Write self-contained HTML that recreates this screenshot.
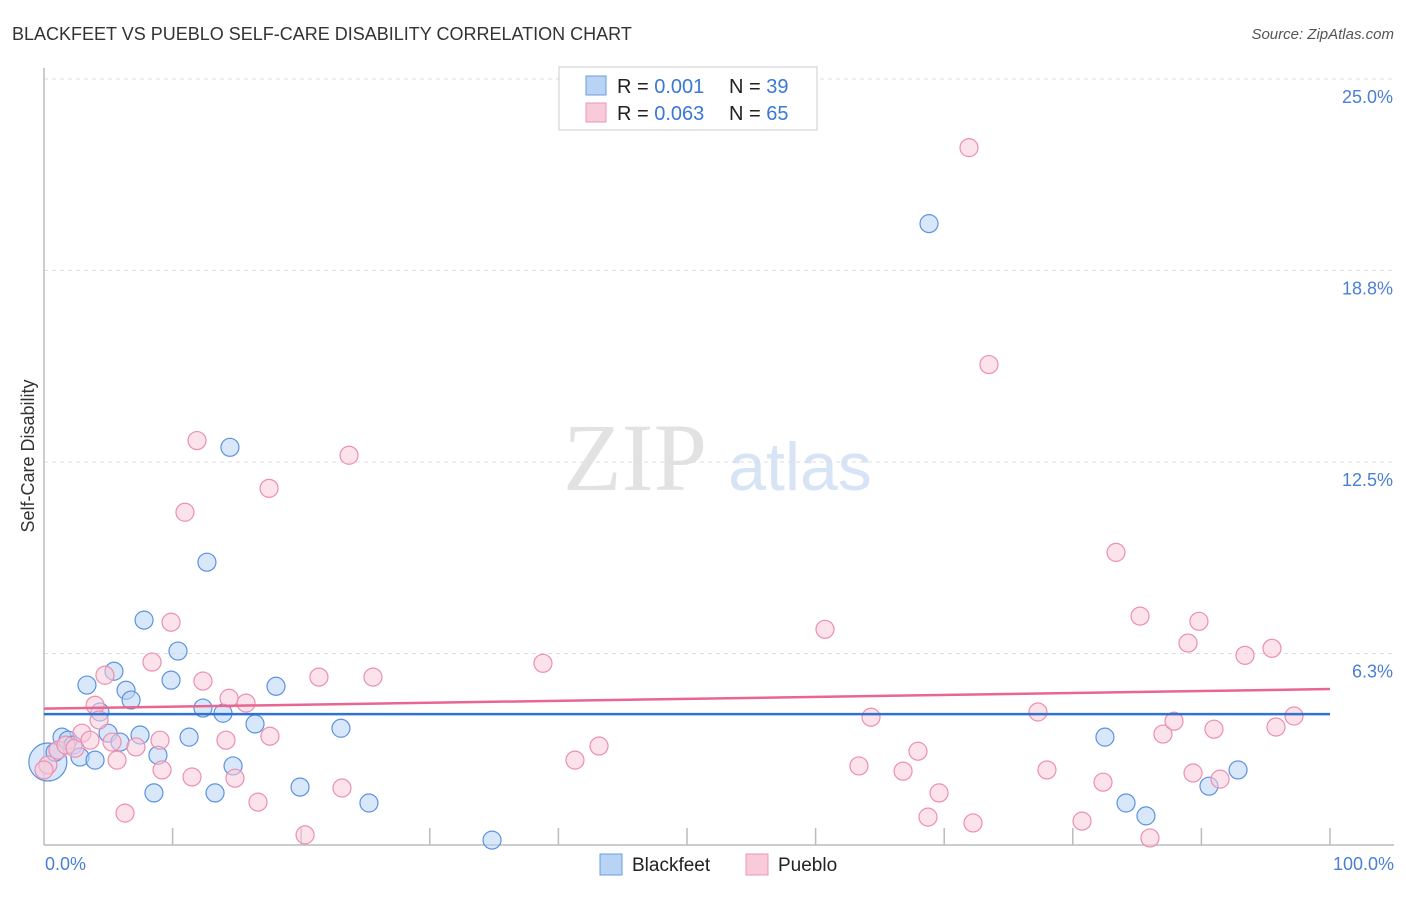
<!DOCTYPE html>
<html><head><meta charset="utf-8"><style>
body{margin:0;background:#fff;font-family:"Liberation Sans",sans-serif}
svg text{font-family:"Liberation Sans",sans-serif}
</style></head><body>
<svg width="1406" height="892" viewBox="0 0 1406 892" xmlns="http://www.w3.org/2000/svg" id="chart">
<text x="12" y="40" font-size="18" fill="#333">BLACKFEET VS PUEBLO SELF-CARE DISABILITY CORRELATION CHART</text>
<text x="1394" y="39" font-size="15" fill="#555" text-anchor="end" font-style="italic">Source: ZipAtlas.com</text>
<g>
<text x="635" y="490" font-size="96" fill="#e2e2e2" text-anchor="middle" font-family="Liberation Serif,serif" style="font-family:'Liberation Serif',serif">ZIP</text>
<text x="800" y="490" font-size="68" fill="#d6e4f5" text-anchor="middle">atlas</text>
</g>
<g id="grid"></g>
<g id="axes"></g>
<g id="marks"></g>
<g id="trend"></g>
<text transform="translate(34,456) rotate(-90)" font-size="18" fill="#333" text-anchor="middle">Self-Care Disability</text>
<text x="45" y="870" font-size="18" fill="#4a7fd4">0.0%</text>
<text x="1394" y="870" font-size="18" fill="#4a7fd4" text-anchor="end">100.0%</text>
<g>
<rect x="559" y="67" width="258" height="63" fill="#fff" stroke="#ccc"/>
<rect x="586" y="76" width="20" height="19" fill="#b9d3f5" stroke="#6a9de0"/>
<rect x="586" y="103" width="20" height="19" fill="#f9cad9" stroke="#ec96b3"/>
<text x="617" y="93" font-size="20" fill="#222">R = <tspan fill="#3a78d6">0.001</tspan></text>
<text x="729" y="93" font-size="20" fill="#222">N = <tspan fill="#3a78d6">39</tspan></text>
<text x="617" y="120" font-size="20" fill="#222">R = <tspan fill="#3a78d6">0.063</tspan></text>
<text x="729" y="120" font-size="20" fill="#222">N = <tspan fill="#3a78d6">65</tspan></text>
</g>
<g>
<rect x="600" y="854" width="22" height="21" fill="#b9d3f5" stroke="#6a9de0"/>
<text x="632" y="871" font-size="19" fill="#222">Blackfeet</text>
<rect x="746" y="854" width="22" height="21" fill="#f9cad9" stroke="#ec96b3"/>
<text x="778" y="871" font-size="19" fill="#222">Pueblo</text>
</g>
</svg>
<script>
const yTicks=[6.25,12.5,18.75,25];
const yTickLabels=["6.3%","12.5%","18.8%","25.0%"];
const xTicks=[10,20,30,40,50,60,70,80,90,100];
const blackfeetX=[0.3,0.86,1.4,1.87,2.26,2.8,3.34,3.97,4.35,4.98,5.44,5.91,6.38,6.77,7.47,7.78,8.55,8.86,9.88,10.42,11.28,12.36,12.67,13.3,13.92,14.46,14.7,16.41,18.04,19.91,23.09,25.27,34.84,68.82,82.5,84.14,85.69,90.59,92.85];
const blackfeetY=[2.71,3.03,3.52,3.42,3.26,2.87,5.22,2.77,4.34,3.65,5.67,3.36,5.05,4.73,3.59,7.34,1.70,2.93,5.38,6.33,3.52,4.47,9.23,1.70,4.30,12.98,2.58,3.95,5.18,1.89,3.81,1.37,0.16,20.28,3.52,1.37,0.95,1.92,2.45];
const puebloX=[0.3,1.09,1.71,2.41,2.95,3.58,3.97,4.28,4.74,5.29,5.68,6.3,7.15,8.4,9.02,9.18,9.88,10.96,11.51,11.9,12.36,14.15,14.39,14.85,15.71,16.64,17.5,17.57,20.3,21.38,23.17,23.72,25.58,38.8,41.29,43.16,60.73,63.37,64.31,66.8,67.96,68.74,69.6,71.93,72.24,73.48,77.29,77.99,80.72,82.35,83.36,85.23,86.0,87.01,87.87,88.96,89.35,89.81,90.98,91.45,93.39,95.49,95.8,97.2,0];
const puebloY=[2.61,3.10,3.26,3.16,3.65,3.42,4.56,4.08,5.54,3.36,2.77,1.04,3.20,5.97,3.42,2.45,7.27,10.86,2.22,13.2,5.35,3.42,4.79,2.18,4.63,1.40,11.64,3.55,0.33,5.48,1.86,12.72,5.48,5.93,2.77,3.23,7.04,2.58,4.17,2.41,3.06,0.91,1.70,22.76,0.72,15.68,4.34,2.45,0.78,2.05,9.55,7.47,0.23,3.62,4.04,6.59,2.35,7.30,3.78,2.15,6.19,6.42,3.85,4.21,2.45];
const blackfeetTrend=[4.27,4.27];
const puebloTrend=[4.45,5.09];
const NS="http://www.w3.org/2000/svg";
const X=v=>44+v/100*1286;
const Y=v=>845-v/25*766;
function mk(tag,attrs,parent){const e=document.createElementNS(NS,tag);for(const k in attrs)e.setAttribute(k,attrs[k]);parent.appendChild(e);return e;}
const grid=document.getElementById('grid'),axes=document.getElementById('axes'),marks=document.getElementById('marks'),trend=document.getElementById('trend');
yTicks.forEach((t,i)=>{
 const l=mk('line',{x1:44,x2:1394,y1:Y(t),y2:Y(t),stroke:'#ddd','stroke-dasharray':'4,4'},grid);
 
 
 const tx=mk('text',{x:1393,y:Y(t)+24,'font-size':18,fill:'#4a7fd4','text-anchor':'end'},grid);
 tx.textContent=yTickLabels[i];
 
 
});
const ya=mk('line',{x1:44,x2:44,y1:68,y2:845,stroke:'#bbb','stroke-width':1.5},axes);


const xa=mk('line',{x1:44,x2:1394,y1:845,y2:845,stroke:'#bbb','stroke-width':1.5},axes);


xTicks.forEach(t=>{
 const l=mk('line',{x1:X(t),x2:X(t),y1:828,y2:845,stroke:'#bbb','stroke-width':1.5},axes);
 
 
});
function dots(xs,ys,fill,stroke,name){
 xs.forEach((x,i)=>{
  const c=mk('circle',{cx:X(x),cy:Y(ys[i]),r:(i===0&&name==='blackfeet-point')?19:9,fill:fill,'fill-opacity':0.55,stroke:stroke,'stroke-width':1.2},marks);
  
  
 });
}
dots(blackfeetX,blackfeetY,'#b9d3f5','#5b93e0','blackfeet-point');
dots(puebloX,puebloY,'#f9cad9','#ec8fb0','pueblo-point');
const tb=mk('line',{x1:X(0),x2:X(100),y1:Y(blackfeetTrend[0]),y2:Y(blackfeetTrend[1]),stroke:'#2f72d0','stroke-width':2.5},trend);


const tp=mk('line',{x1:X(0),x2:X(100),y1:Y(puebloTrend[0]),y2:Y(puebloTrend[1]),stroke:'#e8668f','stroke-width':2.5},trend);


</script>
</body></html>
